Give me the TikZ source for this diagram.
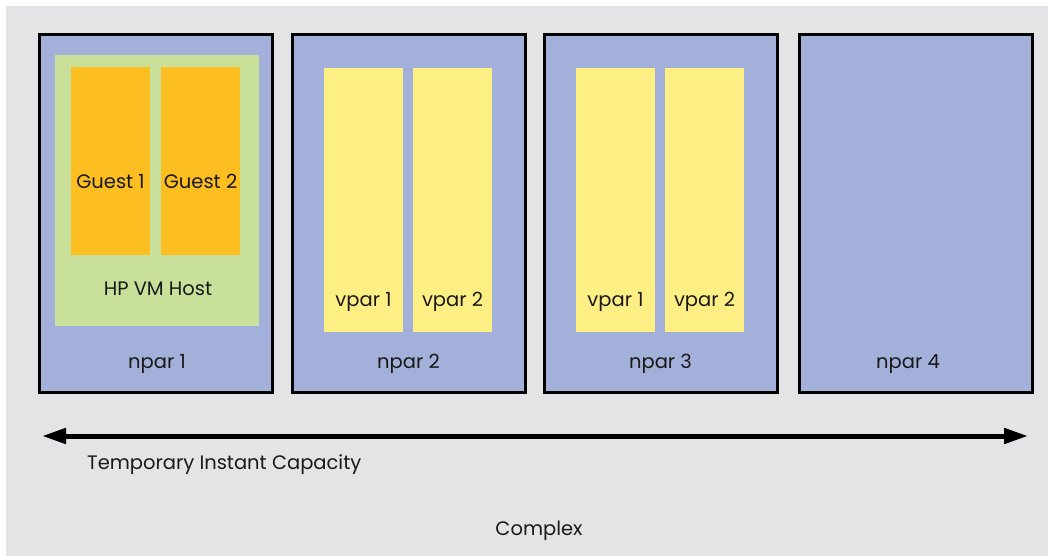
\documentclass[tikz,border=0pt]{standalone}
\usepackage{fontspec}
\setmainfont{Poppins}
\usetikzlibrary{arrows.meta}
\definecolor{bggray}{HTML}{E3E4E6}
\definecolor{nparblue}{HTML}{A3B0D9}
\definecolor{hostgreen}{HTML}{C9E09B}
\definecolor{guestorange}{HTML}{FDBE22}
\definecolor{vparyellow}{HTML}{FEEF84}
\tikzset{
  npar/.style={draw=black, line width=3pt, fill=nparblue, minimum width=233pt, minimum height=358pt, inner sep=0pt},
  host/.style={fill=hostgreen, minimum width=204pt, minimum height=271pt, inner sep=0pt},
  guest/.style={fill=guestorange, minimum width=79pt, minimum height=188pt, inner sep=0pt},
  vpar/.style={fill=vparyellow, minimum width=79pt, minimum height=264pt, inner sep=0pt},
  lbl/.style={font=\fontsize{19.5}{22}\selectfont, text=black!90, inner sep=0pt, anchor=base},
  bigarrow/.style={line width=5pt, {Triangle[length=24pt,width=15pt]}-{Triangle[length=24pt,width=15pt]}}
}
\begin{document}
\begin{tikzpicture}[x=1pt,y=-1pt]
\useasboundingbox (0,0) rectangle (1048,556);
\fill[white] (0,0) rectangle (1048,556);
\node[fill=bggray, minimum width=1042pt, minimum height=550pt, inner sep=0pt] (complexbox) at (527,281) {};
% npar boxes
\node[npar] (n1) at (156,213.5) {};
\node[npar] (n2) at (408.5,213.5) {};
\node[npar] (n3) at (660.5,213.5) {};
\node[npar] (n4) at (915.5,213.5) {};
% host and guests
\node[host] (host) at (157,190.5) {};
\node[guest] (g1) at (110.5,161) {};
\node[guest] (g2) at (200.5,161) {};
% vpars
\node[vpar] (v21) at (363.5,200) {};
\node[vpar] (v22) at (452.5,200) {};
\node[vpar] (v31) at (615.5,200) {};
\node[vpar] (v32) at (704.5,200) {};
% labels
\node[lbl] (tg1) at (110.5,188) {Guest 1};
\node[lbl] (tg2) at (200.5,188) {Guest 2};
\node[lbl] (thost) at (158,295) {HP VM Host};
\node[lbl] (tv21) at (363.5,306) {vpar 1};
\node[lbl] (tv22) at (452.5,306) {vpar 2};
\node[lbl] (tv31) at (615.5,306) {vpar 1};
\node[lbl] (tv32) at (704.5,306) {vpar 2};
\node[lbl] (tn1) at (157,368) {npar 1};
\node[lbl] (tn2) at (408.5,368) {npar 2};
\node[lbl] (tn3) at (660.5,368) {npar 3};
\node[lbl] (tn4) at (908,368) {npar 4};
% arrow
\coordinate (aL) at (42,436);
\coordinate (aR) at (1028,436);
\draw[bigarrow] (aL) -- (aR);
\node[lbl, anchor=base west] (ttic) at (87,469) {Temporary Instant Capacity};
\node[lbl] (tcomplex) at (539,535) {Complex};
\end{tikzpicture}
\end{document}
